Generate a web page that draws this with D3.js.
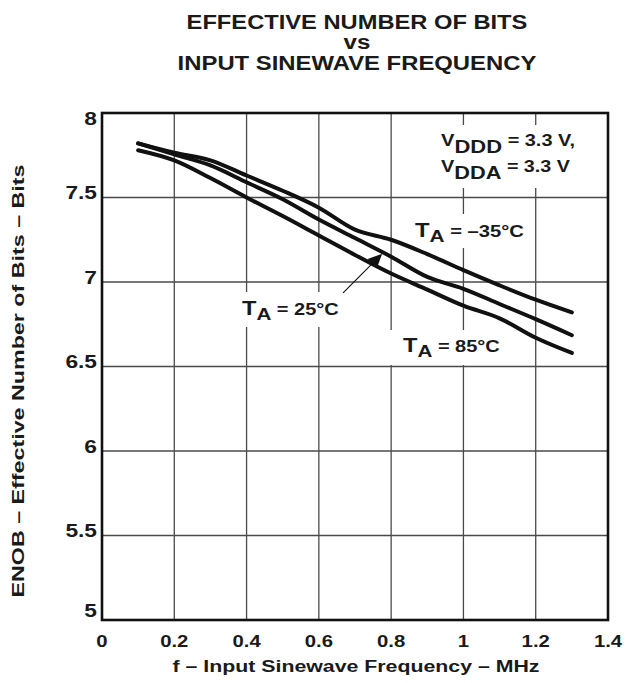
<!DOCTYPE html>
<html>
<head>
<meta charset="utf-8">
<script src="https://cdn.jsdelivr.net/npm/d3@7"></script>
<style>
  html, body { margin: 0; padding: 0; background: #fff; }
  svg text { font-family: "Liberation Sans", Arial, Helvetica, sans-serif; font-weight: bold; fill: #1a1a1a; }
</style>
</head>
<body>
<svg id="chart" width="626" height="683"></svg>
<script>
// ---------------- data ----------------
const freqMHz   = [0.1, 0.2, 0.3, 0.4, 0.5, 0.6, 0.7, 0.8, 0.9, 1.0, 1.1, 1.2, 1.3];
const enobM35   = [7.82, 7.765, 7.72, 7.63, 7.54, 7.44, 7.31, 7.25, 7.165, 7.07, 6.98, 6.895, 6.82];
const enob25    = [7.82, 7.755, 7.69, 7.59, 7.49, 7.37, 7.26, 7.15, 7.03, 6.96, 6.87, 6.78, 6.685];
const enob85    = [7.78, 7.72, 7.615, 7.50, 7.39, 7.275, 7.16, 7.05, 6.955, 6.86, 6.785, 6.67, 6.58];
const xTickVals = [0, 0.2, 0.4, 0.6, 0.8, 1.0, 1.2, 1.4];
const xTickText = ["0", "0.2", "0.4", "0.6", "0.8", "1", "1.2", "1.4"];
const yTickVals = [5, 5.5, 6, 6.5, 7, 7.5, 8];
const yTickText = ["5", "5.5", "6", "6.5", "7", "7.5", "8"];
const titleLines = ["EFFECTIVE NUMBER OF BITS", "vs", "INPUT SINEWAVE FREQUENCY"];
const xTitle = "f \u2013 Input Sinewave Frequency \u2013 MHz";
const yTitle = "ENOB \u2013 Effective Number of Bits \u2013 Bits";

// ---------------- layout ----------------
const W = 626, H = 683;
const plot = { left: 102, right: 608, top: 113, bottom: 620 };
const svg = d3.select("#chart");
const x = d3.scaleLinear().domain([0, 1.4]).range([plot.left, plot.right]);
const y = d3.scaleLinear().domain([5, 8]).range([plot.bottom, plot.top]);

svg.append("rect").attr("width", W).attr("height", H).attr("fill", "#fff");

// stretch helper: scale a text horizontally about ax to reach target width
function stretch(sel, ax, targetW) {
  const bb = sel.node().getBBox();
  const s = targetW / bb.width;
  sel.attr("transform", `translate(${ax},0) scale(${s},1) translate(${-ax},0)`);
}

// ---------------- title ----------------
const titleSpec = [
  { y: 29, w: 341 },
  { y: 49.5, w: 27 },
  { y: 70, w: 359 }
];
titleLines.forEach((t, i) => {
  const el = svg.append("text").attr("x", 357).attr("y", titleSpec[i].y)
    .attr("text-anchor", "middle").attr("font-size", 19.5).text(t);
  stretch(el, 357, titleSpec[i].w);
});

// ---------------- grid ----------------
const grid = svg.append("g").attr("stroke", "#4a4a4a").attr("stroke-width", 1.3);
grid.selectAll("line.v").data(xTickVals.filter(v => v > 0 && v < 1.4)).join("line")
  .attr("x1", d => x(d)).attr("x2", d => x(d)).attr("y1", plot.top).attr("y2", plot.bottom);
grid.selectAll("line.h").data(yTickVals.filter(v => v > 5 && v < 8)).join("line")
  .attr("x1", plot.left).attr("x2", plot.right).attr("y1", d => y(d)).attr("y2", d => y(d));

// white knock-outs behind the annotations
const knock = svg.append("g").attr("fill", "#fff");
[
  [436, 125, 144, 63],
  [410, 214, 119, 34],
  [237, 292, 107, 35],
  [388, 330, 117, 35]
].forEach(r => knock.append("rect").attr("x", r[0]).attr("y", r[1]).attr("width", r[2]).attr("height", r[3]));

// ---------------- curves ----------------
const line = d3.line().x(d => x(d[0])).y(d => y(d[1])).curve(d3.curveCatmullRom.alpha(0.5));
[enobM35, enob25, enob85].forEach(s => {
  svg.append("path").datum(freqMHz.map((f, i) => [f, s[i]]))
    .attr("d", line).attr("fill", "none").attr("stroke", "#111")
    .attr("stroke-width", 4).attr("stroke-linecap", "round").attr("stroke-linejoin", "round");
});

// ---------------- frame ----------------
svg.append("rect").attr("x", plot.left).attr("y", plot.top)
  .attr("width", plot.right - plot.left).attr("height", plot.bottom - plot.top)
  .attr("fill", "none").attr("stroke", "#111").attr("stroke-width", 2.6);

// ---------------- axes (tick labels) ----------------
const xAxis = d3.axisBottom(x).tickValues(xTickVals).tickFormat((d, i) => xTickText[i]).tickSize(0).tickPadding(0);
const gx = svg.append("g").attr("transform", `translate(0,${plot.bottom})`).call(xAxis);
gx.select(".domain").remove();
gx.selectAll(".tick").attr("transform", null);
gx.selectAll("text").attr("font-size", 16.5).attr("fill", "#1a1a1a")
  .attr("font-family", "Liberation Sans, Arial, sans-serif").attr("font-weight", "bold")
  .attr("dy", null).attr("y", 27)
  .each(function (d) { const cx = x(d); d3.select(this).attr("x", cx).attr("transform", `translate(${cx},0) scale(1.23,1) translate(${-cx},0)`); });

const yAxis = d3.axisLeft(y).tickValues(yTickVals).tickFormat((d, i) => yTickText[i]).tickSize(0).tickPadding(0);
const gy = svg.append("g").attr("transform", `translate(${plot.left},0)`).call(yAxis);
gy.select(".domain").remove();
gy.selectAll(".tick").attr("transform", null);
gy.selectAll("text").attr("font-size", 17.5).attr("fill", "#1a1a1a")
  .attr("font-family", "Liberation Sans, Arial, sans-serif").attr("font-weight", "bold")
  .attr("dy", null).attr("x", -5)
  .attr("y", d => Math.min(Math.max(y(d) + 2, plot.top + 12), plot.bottom - 3))
  .attr("transform", `translate(${-5},0) scale(1.3,1) translate(${5},0)`);

// ---------------- axis titles ----------------
svg.append("text").attr("x", 356).attr("y", 672).attr("text-anchor", "middle")
  .attr("font-size", 16.3).attr("textLength", 367).attr("lengthAdjust", "spacingAndGlyphs").text(xTitle);
svg.append("text").attr("transform", "translate(23.5,381) rotate(-90)").attr("text-anchor", "middle")
  .attr("font-size", 16.3).attr("textLength", 433).attr("lengthAdjust", "spacingAndGlyphs").text(yTitle);

// ---------------- annotations ----------------
function subLabel(x0, base, main, sub, rest, sizes, subShift, targetW) {
  const t = svg.append("text").attr("x", x0).attr("y", base);
  t.append("tspan").attr("font-size", sizes[0]).text(main);
  t.append("tspan").attr("font-size", sizes[1]).attr("dy", subShift).text(sub);
  t.append("tspan").attr("font-size", sizes[2]).attr("dy", -subShift).text(rest);
  stretch(t, x0, targetW);
  return t;
}
subLabel(441, 146, "V", "DDD", " = 3.3 V,", [16.5, 18, 16.3], 7, 134);
subLabel(441, 172, "V", "DDA", " = 3.3 V", [16.5, 18, 16.3], 7, 129);
subLabel(415, 237, "T", "A", " = \u201335\u00B0C", [19.5, 17, 16.5], 5, 109);
subLabel(242, 315, "T", "A", " = 25\u00B0C", [19.5, 17, 16.5], 5, 97);
subLabel(403, 352, "T", "A", " = 85\u00B0C", [19.5, 17, 16.5], 5, 97);

// arrow pointing at the 25 °C curve
const arrowTail = [0.667, 6.935], arrowTip = [0.775, 7.167];
const tx = x(arrowTail[0]), ty = y(arrowTail[1]), hx = x(arrowTip[0]), hy = y(arrowTip[1]);
const ang = Math.atan2(hy - ty, hx - tx);
const hl = 14, hw = 6.5;
const bx = hx - hl * Math.cos(ang), by = hy - hl * Math.sin(ang);
svg.append("line").attr("x1", tx).attr("y1", ty).attr("x2", bx).attr("y2", by)
  .attr("stroke", "#111").attr("stroke-width", 1.1);
svg.append("path").attr("fill", "#111").attr("d",
  `M${hx},${hy} L${bx + hw * Math.sin(ang)},${by - hw * Math.cos(ang)} L${bx - hw * Math.sin(ang)},${by + hw * Math.cos(ang)} Z`);
</script>
</body>
</html>
